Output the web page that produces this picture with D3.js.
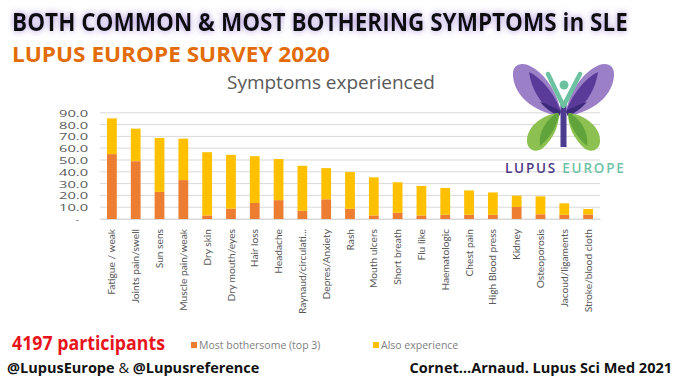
<!DOCTYPE html>
<html><head><meta charset="utf-8">
<script src="https://cdn.jsdelivr.net/npm/d3@7"></script>
<style>
body{margin:0;background:#fff;}
svg{display:block;}
</style></head>
<body>
<svg id="chart" width="679" height="380"></svg>
<script>
const categories = ["Fatigue / weak","Joints pain/swell","Sun sens","Muscle pain/weak","Dry skin","Dry mouth/eyes","Hair loss","Headache","Raynaud/circulati...","Depres/Anxiety","Rash","Mouth ulcers","Short breath","Flu like","Haematologic","Chest pain","High Blood press","Kidney","Osteoporosis","Jacoud/ligaments","Stroke/blood cloth"];
const mostBothersome = [55, 49, 23, 33, 3, 8.8, 13.6, 16, 7, 16.7, 8.6, 3, 5.3, 3, 3.6, 3.6, 3.6, 10.2, 4, 3.6, 3.8];
const alsoExperience = [30.3, 27.6, 45.7, 35.1, 53.6, 45.6, 39.6, 34.8, 38.1, 26.4, 31.2, 32.3, 25.8, 25, 22.7, 20.6, 18.9, 9.6, 15.2, 9.7, 4.7];
const yTicks = [0,10,20,30,40,50,60,70,80,90];
const seriesNames = ["Most bothersome (top 3)","Also experience"];
const seriesColors = ["#ED7D31","#FFC000"];

const svg = d3.select("#chart");
svg.append("rect").attr("width",679).attr("height",380).attr("fill","#fff");

// glow filter for title (single text element)
const defs = svg.append("defs");
const f = defs.append("filter").attr("id","glow").attr("x","-3%").attr("y","-40%").attr("width","106%").attr("height","180%");
f.append("feGaussianBlur").attr("in","SourceAlpha").attr("stdDeviation",3.5).attr("result","blur");
f.append("feFlood").attr("flood-color","#9a7fd0").attr("flood-opacity",0.85).attr("result","col");
f.append("feComposite").attr("in","col").attr("in2","blur").attr("operator","in").attr("result","glow");
const fm = f.append("feMerge");
fm.append("feMergeNode").attr("in","glow");
fm.append("feMergeNode").attr("in","SourceGraphic");

const title = svg.append("text").attr("x",0).attr("y",0).attr("font-family","Open Sans").attr("font-weight",700)
  .attr("font-size",25).attr("fill","#111").attr("filter","url(#glow)")
  .text("BOTH COMMON & MOST BOTHERING SYMPTOMS in SLE");
const tLen = title.node().getComputedTextLength();
title.attr("transform",`translate(12,31) scale(${616/tLen},1)`);

svg.append("text").attr("x",12).attr("y",62).attr("font-family","Open Sans").attr("font-weight",700)
  .attr("font-size",21).attr("fill","#E36C0A").attr("textLength",318).attr("lengthAdjust","spacingAndGlyphs")
  .text("LUPUS EUROPE SURVEY 2020");

svg.append("text").attr("x",331).attr("y",89).attr("text-anchor","middle").attr("font-family","Open Sans")
  .attr("font-size",17.5).attr("fill","#595959").attr("textLength",208).attr("lengthAdjust","spacingAndGlyphs")
  .text("Symptoms experienced");

// scales
const x = d3.scaleBand().domain(categories).range([100,600]).paddingInner(0.59).paddingOuter(0.295);
const y = d3.scaleLinear().domain([0,90]).range([219,112.8]);

// gridlines
svg.append("g").selectAll("line").data(yTicks).join("line")
  .attr("x1",100).attr("x2",600).attr("y1",d=>y(d)).attr("y2",d=>y(d))
  .attr("stroke","#d9d9d9").attr("stroke-width",1);

// y axis
const yAxis = d3.axisLeft(y).tickValues(yTicks).tickSize(0).tickPadding(0)
  .tickFormat(d => d===0 ? "-" : d.toFixed(1));
const ga = svg.append("g").attr("transform","translate(88,0)").call(yAxis);
ga.select(".domain").remove();
ga.selectAll("text").attr("font-family","Open Sans").attr("font-size",9.8).attr("fill","#595959")
  .attr("dy","0.35em")
  .attr("dx", d => d===0 ? -9 : 0)
  .each(function(d){ if(d!==0) d3.select(this).attr("textLength",29).attr("lengthAdjust","spacingAndGlyphs"); });

// stacked bars
const rows = categories.map((c,i)=>({cat:c, a:mostBothersome[i], b:alsoExperience[i]}));
const stack = d3.stack().keys(["a","b"])(rows);
svg.append("g").selectAll("g").data(stack).join("g").attr("fill",(d,i)=>seriesColors[i])
  .selectAll("rect").data(d=>d).join("rect")
  .attr("x",d=>x(d.data.cat)).attr("width",x.bandwidth())
  .attr("y",d=>y(d[1])).attr("height",d=>y(d[0])-y(d[1]));

// x axis labels
const xAxis = d3.axisBottom(x).tickSize(0).tickPadding(0);
const gx = svg.append("g").attr("transform","translate(0,219)").call(xAxis);
gx.select(".domain").attr("stroke","#d9d9d9");
gx.selectAll("text").attr("font-family","Lato").attr("font-size",10.2).attr("fill","#595959")
  .attr("text-anchor","end").attr("transform","rotate(-90)").attr("x",-10).attr("y",0).attr("dy","0.35em");

// legend & participants
svg.append("text").attr("x",12).attr("y",350).attr("font-family","Open Sans").attr("font-weight",700)
  .attr("font-size",19.5).attr("fill","#E8141B").attr("textLength",153).attr("lengthAdjust","spacingAndGlyphs")
  .text("4197 participants");
const legX = [191, 373];
const lg = svg.append("g").selectAll("g").data(seriesNames).join("g")
  .attr("transform",(d,i)=>`translate(${legX[i]},0)`);
lg.append("rect").attr("x",0).attr("y",342).attr("width",6).attr("height",6).attr("fill",(d,i)=>seriesColors[i]);
lg.append("text").attr("x",8).attr("y",348.5).attr("font-family","Open Sans").attr("font-size",10.5)
  .attr("fill","#7f7f7f").text(d=>d);

// footer
const ft = svg.append("text").attr("x",7).attr("y",373).attr("font-family","Open Sans").attr("font-size",14.5).attr("fill","#111");
ft.append("tspan").attr("font-weight",700).text("@LupusEurope");
ft.append("tspan").text(" & ");
ft.append("tspan").attr("font-weight",700).text("@Lupusreference");
svg.append("text").attr("x",672).attr("y",373).attr("text-anchor","end").attr("font-family","Open Sans")
  .attr("font-weight",700).attr("font-size",14.5).attr("fill","#111").text("Cornet\u2026Arnaud. Lupus Sci Med 2021");

// logo
const logo = svg.append("g");
function wingSet(g){
  g.append("path").attr("d","M559,116 C540,113 515,100 513,76 C512,66 519,62 528,65 C546,73 558,94 561,112 Z").attr("fill","#9b80c8");
  g.append("path").attr("d","M559,116 C546,110 532,94 529,72 C542,78 556,96 561,112 Z").attr("fill","#5b3b9a");
  g.append("path").attr("d","M559,116 C552,113 545,108 540,102 C548,104 555,108 561,111 Z").attr("fill","#3e2a7a");
  g.append("path").attr("d","M557,113 C540,116 526,128 527,142 C528,151 537,153 543,148 C553,139 559,126 559,114 Z").attr("fill","#8cc152");
  g.append("path").attr("d","M557,113 C546,120 538,132 540,146 C550,138 557,126 559,114 Z").attr("fill","#5fa33a");
}
wingSet(logo.append("g"));
wingSet(logo.append("g").attr("transform","translate(1127,0) scale(-1,1)"));
logo.append("rect").attr("x",560.5).attr("y",104).attr("width",6).attr("height",43).attr("fill","#4b3c8f");
logo.append("path").attr("d","M548,74 L563.5,106 L580,74").attr("fill","none").attr("stroke","#6cc2a0").attr("stroke-width",4.5).attr("stroke-linejoin","round").attr("stroke-linecap","round");
logo.append("circle").attr("cx",564).attr("cy",85).attr("r",4.5).attr("fill","#6cc2a0");
const lt = svg.append("text").attr("x",505).attr("y",173).attr("font-family","Open Sans").attr("font-weight",600)
  .attr("font-size",13.5).attr("letter-spacing",3.2).attr("textLength",122).attr("lengthAdjust","spacing");
lt.append("tspan").attr("fill","#4d3a86").text("LUPUS ");
lt.append("tspan").attr("fill","#6fc4a6").text("EUROPE");
</script>
</body></html>
